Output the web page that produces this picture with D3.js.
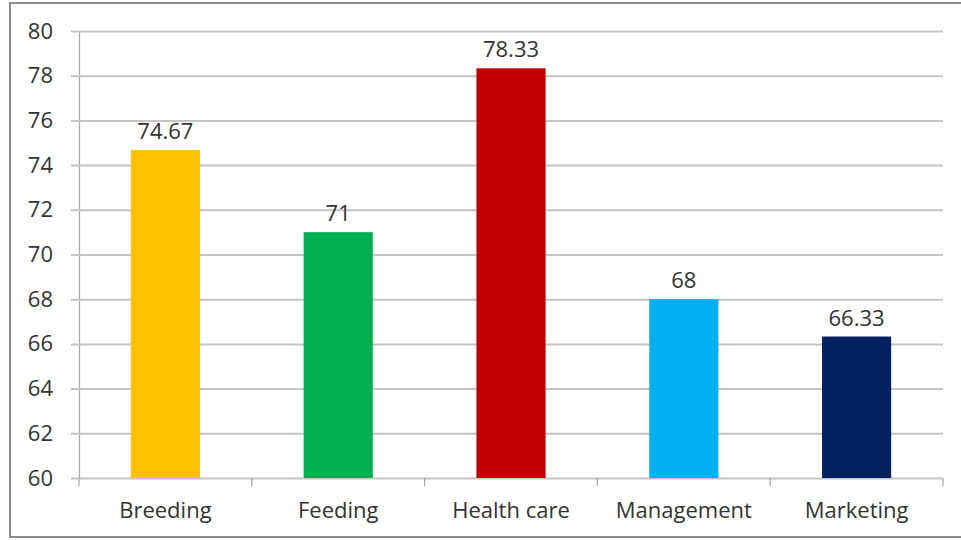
<!DOCTYPE html>
<html>
<head>
<meta charset="utf-8">
<script src="https://cdn.jsdelivr.net/npm/d3@7"></script>
<style>
  body { margin: 0; background: #fff; }
  svg text { font-family: "Open Sans", sans-serif; fill: #333; }
</style>
</head>
<body>
<div id="chart"></div>
<script>
(function() {

  // data
  let categories = ["Breeding", "Feeding", "Health care", "Management", "Marketing"];
  let scores = [74.67, 71, 78.33, 68, 66.33];
  let barColors = ["#FFC000", "#00B050", "#C00000", "#00B0F0", "#002060"];
  let yTicks = [60, 62, 64, 66, 68, 70, 72, 74, 76, 78, 80];

  let width = 961, height = 540;
  let margin = { top: 31, right: 18, bottom: 62, left: 79 };
  let plotW = width - margin.left - margin.right,
      plotH = height - margin.top - margin.bottom;

  let svg = d3.select("#chart")
    .append("svg")
      .attr("width", width)
      .attr("height", height);

  // outer chart border
  svg.append("rect")
    .attr("x", 10)
    .attr("y", 3)
    .attr("width", 970)
    .attr("height", 534)
    .attr("fill", "none")
    .attr("stroke", "#8c8c8c")
    .attr("stroke-width", 2);

  let g = svg.append("g")
    .attr("transform", "translate(" + margin.left + "," + margin.top + ")");

  let xScale = d3.scaleBand()
    .domain(categories)
    .range([0, plotW])
    .paddingInner(0.6)
    .paddingOuter(0.3);

  let yScale = d3.scaleLinear()
    .domain([60, 80])
    .range([plotH, 0]);

  // y axis with gridlines
  let yAxis = g.append("g")
    .call(d3.axisLeft(yScale)
      .tickValues(yTicks)
      .tickSize(8)
      .tickPadding(18)
      .tickFormat(d3.format("d")));
  yAxis.select(".domain").attr("stroke", "#a6a6a6").attr("stroke-width", 1.2);
  yAxis.selectAll(".tick line")
    .attr("x2", plotW)
    .attr("x1", -8)
    .attr("stroke", "#c4c4c4")
    .attr("stroke-width", 2);
  yAxis.selectAll(".tick text")
    .style("font-size", "22px")
    .attr("fill", "#333");

  // x axis: labels at band centres, ticks at band boundaries
  let xAxis = g.append("g")
    .attr("transform", "translate(0," + plotH + ")")
    .call(d3.axisBottom(xScale).tickSize(0).tickPadding(0));
  xAxis.select(".domain").remove();
  xAxis.selectAll(".tick text")
    .attr("dy", null)
    .attr("y", 40)
    .style("font-size", "22px")
    .attr("fill", "#333");

  let step = xScale.step();
  let bounds = categories.map(c => xScale(c) - step * 0.3).concat([plotW]);
  xAxis.selectAll(".bound")
    .data(bounds)
    .enter()
    .append("line")
      .attr("class", "bound")
      .attr("x1", d => d)
      .attr("x2", d => d)
      .attr("y1", 0)
      .attr("y2", 8)
      .attr("stroke", "#a6a6a6")
      .attr("stroke-width", 1.2);

  // bars
  g.selectAll(".bar")
    .data(categories)
    .enter()
    .append("rect")
      .attr("class", "bar")
      .attr("x", d => xScale(d))
      .attr("width", xScale.bandwidth())
      .attr("y", (d, i) => yScale(scores[i]))
      .attr("height", (d, i) => plotH - yScale(scores[i]))
      .attr("fill", (d, i) => barColors[i]);

  // value labels
  g.selectAll(".val")
    .data(categories)
    .enter()
    .append("text")
      .attr("class", "val")
      .attr("x", d => xScale(d) + xScale.bandwidth() / 2)
      .attr("y", (d, i) => yScale(scores[i]) - 11)
      .attr("text-anchor", "middle")
      .style("font-size", "22px")
      .text((d, i) => String(scores[i]));

})();
</script>
</body>
</html>
